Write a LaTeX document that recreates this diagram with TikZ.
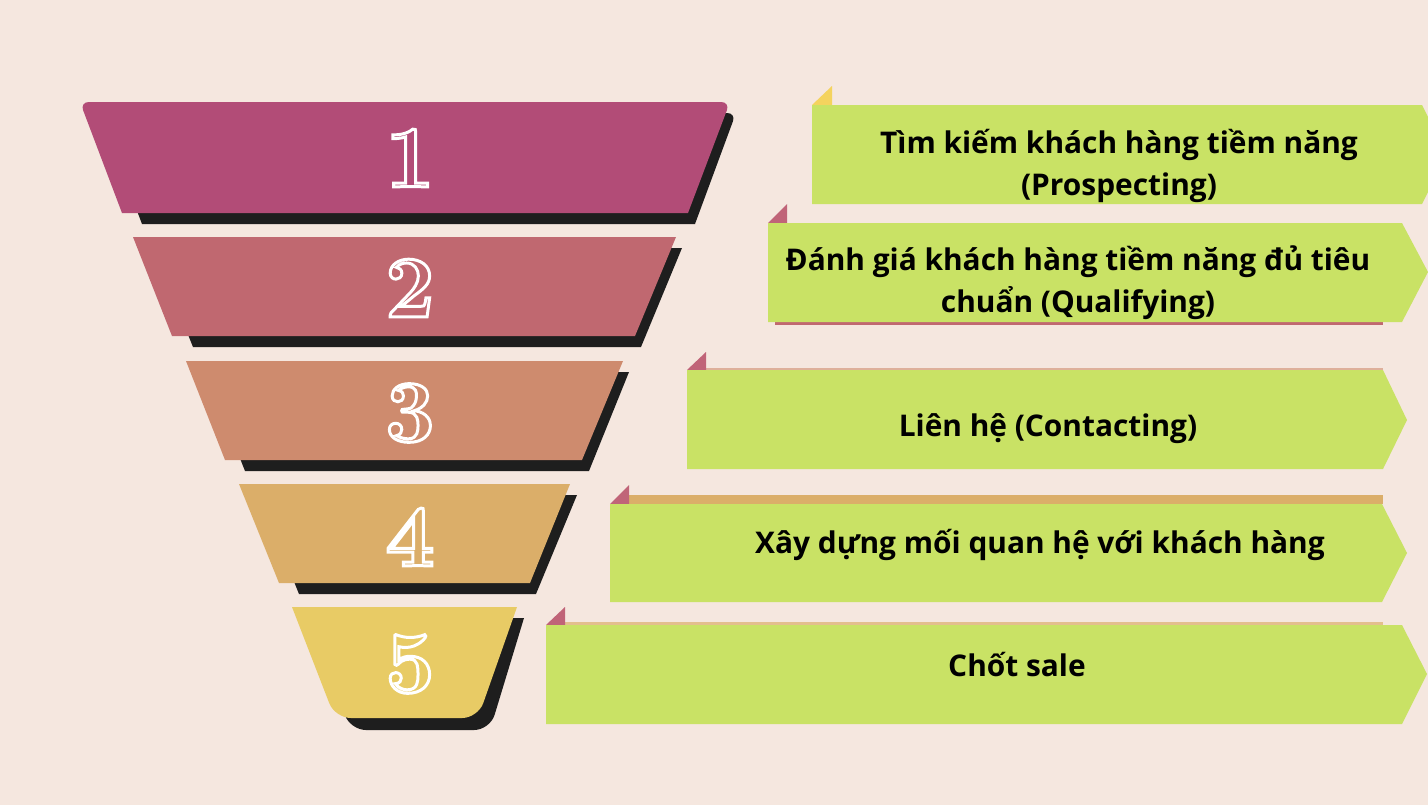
\documentclass[tikz,border=0pt]{standalone}
\usepackage{fontspec}
\newfontfamily\labelfont{Open Sans}

\definecolor{pagebg}{HTML}{F5E7DF}
\definecolor{bandone}{HTML}{B24C77}
\definecolor{bandtwo}{HTML}{C06870}
\definecolor{bandthree}{HTML}{CE8B6E}
\definecolor{bandfour}{HTML}{DBAE69}
\definecolor{bandfive}{HTML}{E8CB65}
\definecolor{shadowgray}{HTML}{1E1E1E}
\definecolor{boxgreen}{HTML}{C9E265}
\definecolor{tabpink}{HTML}{C06478}
\definecolor{tabyellow}{HTML}{F4D35E}

% digit filled in the band colour, stroked in white
\newcommand{\outlinedigit}[2]{{\color{#1}\special{pdf:literal direct 2 Tr 1.7 w 1 1 1 RG}#2\special{pdf:literal direct 0 Tr 0.4 w}}}

\begin{document}
\begin{tikzpicture}
        [x=0.02cm, y=-0.02cm,
         shadow/.style={fill=shadowgray},
         numlabel/.style={font=\bfseries\fontsize{50}{50}\selectfont, inner sep=0pt},
         stagebox/.style={fill=boxgreen},
         stagetext/.style={font=\labelfont\bfseries\fontsize{17}{24}\selectfont, align=center, text=black}]
        \fill[pagebg] (0,0) rectangle (1428,805);
        \useasboundingbox (0,0) rectangle (1428,805);

        % funnel shadows
        \fill[shadow] (142,224) [rounded corners=5pt] -- (100,113) -- (736,113) [sharp corners] -- (695,224) -- cycle;
        \fill[shadow] (153,248) -- (682,248) -- (641,347) -- (193,347) -- cycle;
        \fill[shadow] (206,372) -- (629,372) -- (589,471) -- (245,471) -- cycle;
        \fill[shadow] (259,495) -- (577,495) -- (536,594) -- (299,594) -- cycle;
        \fill[shadow] (312,618) -- (524,618) [rounded corners=9pt] -- (490,730) -- (350,730) [sharp corners] -- cycle;

        % funnel bands
        \fill[bandone] (122,213) [rounded corners=5pt] -- (80,102) -- (730,102) [sharp corners] -- (688,213) -- cycle;
        \fill[bandtwo] (133,237) -- (676,237) -- (635,336) -- (172,336) -- cycle;
        \fill[bandthree] (186,361) -- (623,361) -- (582,460) -- (225,460) -- cycle;
        \fill[bandfour] (239,484) -- (570,484) -- (530,583) -- (279,583) -- cycle;
        \fill[bandfive] (292,607) -- (517,607) [rounded corners=9pt] -- (478,718) -- (335,718) [sharp corners] -- cycle;

        % strips behind the boxes
        \fill[bandtwo] (775,320) rectangle (1383,325);
        \fill[bandthree!60!pagebg] (706,368) rectangle (1383,371);
        \fill[bandfour] (629,495) rectangle (1383,504);
        \fill[bandfour!70!pagebg] (565,622) rectangle (1383,625);

        % folded tabs
        \fill[tabyellow] (812,105) -- (832,105) -- (832,86) -- cycle;
        \fill[tabpink] (768,223) -- (787,223) -- (787,204) -- cycle;
        \fill[tabpink] (687,370) -- (706,370) -- (706,352) -- cycle;
        \fill[tabpink] (610,504) -- (629,504) -- (629,485) -- cycle;
        \fill[tabpink] (546,625) -- (565,625) -- (565,607) -- cycle;

        % green arrow boxes
        \fill[stagebox] (812,105) -- (1422,105) -- (1447,154) -- (1422,204) -- (812,204) -- cycle;
        \fill[stagebox] (768,223) -- (1402,223) -- (1428,272) -- (1402,322) -- (768,322) -- cycle;
        \fill[stagebox] (687,370) -- (1383,370) -- (1407,420) -- (1383,469) -- (687,469) -- cycle;
        \fill[stagebox] (610,504) -- (1382,504) -- (1407,553) -- (1382,602) -- (610,602) -- cycle;
        \fill[stagebox] (546,625) -- (1402,625) -- (1427,674) -- (1402,724) -- (546,724) -- cycle;

        \node[stagetext] (t1) at (1119,166) {Tìm kiếm khách hàng tiềm năng\\(Prospecting)};
        \node[stagetext] (t2) at (1078,283) {Đánh giá khách hàng tiềm năng đủ tiêu\\chuẩn (Qualifying)};
        \node[stagetext] (t3) at (1048,429) {Liên hệ (Contacting)};
        \node[stagetext] (t4) at (1040,545) {Xây dựng mối quan hệ với khách hàng};
        \node[stagetext] (t5) at (1017,665) {Chốt sale};

        % outlined numbers last
        \node[numlabel] (n1) at (410,158) {\outlinedigit{bandone}{1}};
        \node[numlabel] (n2) at (410,288) {\outlinedigit{bandtwo}{2}};
        \node[numlabel] (n3) at (410,413) {\outlinedigit{bandthree}{3}};
        \node[numlabel] (n4) at (410,537) {\outlinedigit{bandfour}{4}};
        \node[numlabel] (n5) at (410,664) {\outlinedigit{bandfive}{5}};
    \end{tikzpicture}
\end{document}
